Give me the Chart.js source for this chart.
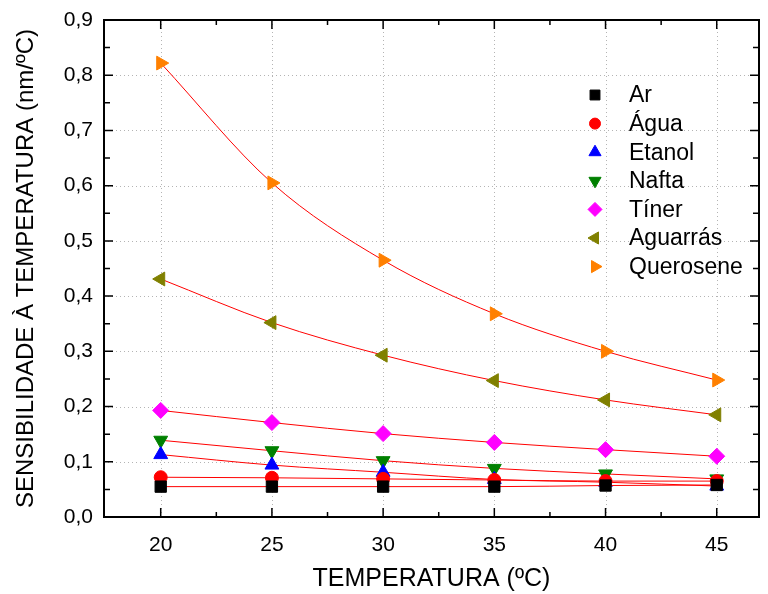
<!DOCTYPE html>
<html>
<head>
<meta charset="utf-8">
<script src="https://cdn.jsdelivr.net/npm/chart.js@4"></script>
<style>
  html, body { margin: 0; padding: 0; background: #fff; }
  #wrap { width: 768px; height: 594px; }
</style>
</head>
<body>
<div id="wrap"><canvas id="myChart" width="768" height="594"></canvas></div>
<script>
// temperatures (ºC)
var temps = [20, 25, 30, 35, 40, 45];

// sensitivity (nm/ºC)
var ar        = [0.055, 0.055, 0.055, 0.055, 0.057, 0.058];
var agua      = [0.072, 0.071, 0.069, 0.067, 0.065, 0.065];
var etanol    = [0.113, 0.094, 0.081, 0.068, 0.063, 0.056];
var nafta     = [0.139, 0.120, 0.102, 0.088, 0.078, 0.069];
var tiner     = [0.193, 0.171, 0.151, 0.135, 0.122, 0.110];
var aguarras  = [0.431, 0.352, 0.293, 0.247, 0.212, 0.185];
var querosene = [0.822, 0.605, 0.465, 0.368, 0.300, 0.248];

var xTicks = [20, 25, 30, 35, 40, 45];
var yTicks = [0, 0.1, 0.2, 0.3, 0.4, 0.5, 0.6, 0.7, 0.8, 0.9];

var FONT = '"Liberation Sans", Arial, sans-serif';

function pts(arr) {
    return temps.map(function (t, i) { return { x: t, y: arr[i] }; });
}

function series(label, arr, color, style, rot, r) {
    return {
        label: label,
        data: pts(arr),
        showLine: true,
        borderColor: 'rgb(255, 0, 0)',
        borderWidth: 1,
        cubicInterpolationMode: 'monotone',
        pointStyle: style,
        rotation: rot,
        pointRadius: r,
        pointHoverRadius: r,
        pointBackgroundColor: color,
        pointBorderColor: color,
        pointBorderWidth: 1
    };
}

// dotted grid under the data
var gridPlugin = {
    id: 'dotgrid',
    beforeDatasetsDraw: function (chart) {
        var ctx = chart.ctx, a = chart.chartArea;
        var xs = chart.scales.x, ys = chart.scales.y;
        ctx.save();
        ctx.strokeStyle = '#b4b4b4';
        ctx.lineWidth = 1;
        ctx.setLineDash([1, 3]);
        ctx.beginPath();
        xTicks.forEach(function (v) {
            var px = Math.round(xs.getPixelForValue(v)) + 0.5;
            ctx.moveTo(px, a.top); ctx.lineTo(px, a.bottom);
        });
        yTicks.forEach(function (v) {
            var py = Math.round(ys.getPixelForValue(v)) + 0.5;
            ctx.moveTo(a.left, py); ctx.lineTo(a.right, py);
        });
        ctx.stroke();
        ctx.restore();
    }
};

// frame, inward ticks and legend inside the plot
var framePlugin = {
    id: 'frame',
    afterDraw: function (chart) {
        var ctx = chart.ctx, a = chart.chartArea;
        var xs = chart.scales.x, ys = chart.scales.y;
        ctx.save();
        ctx.strokeStyle = '#000';
        ctx.lineWidth = 2;
        ctx.strokeRect(a.left, a.top, a.right - a.left, a.bottom - a.top);
        ctx.lineWidth = 1.5;
        ctx.beginPath();
        for (var v = 17.5; v <= 47; v += 2.5) {
            var px = xs.getPixelForValue(v);
            if (px < a.left + 2 || px > a.right - 2) continue;
            var len = (v % 5 === 0) ? 9 : 5;
            ctx.moveTo(px, a.bottom); ctx.lineTo(px, a.bottom - len);
            ctx.moveTo(px, a.top); ctx.lineTo(px, a.top + len);
        }
        for (var k = 1; k < 18; k++) {
            var py = ys.getPixelForValue(k * 0.05);
            var l2 = (k % 2 === 0) ? 9 : 6;
            ctx.moveTo(a.left, py); ctx.lineTo(a.left + l2, py);
            ctx.moveTo(a.right, py); ctx.lineTo(a.right - l2, py);
        }
        ctx.stroke();

        // legend
        var lx = 595, tx = 629, ly = 95, step = 28.6;
        ctx.font = '23px ' + FONT;
        ctx.textBaseline = 'middle';
        ctx.textAlign = 'left';
        chart.data.datasets.forEach(function (ds, i) {
            var y = ly + i * step;
            ctx.fillStyle = ds.pointBackgroundColor;
            ctx.strokeStyle = ds.pointBorderColor;
            ctx.lineWidth = 1;
            Chart.helpers.drawPoint(ctx, {
                pointStyle: ds.pointStyle, rotation: ds.rotation,
                radius: ds.pointStyle === 'circle' ? 5.5 : 7, borderWidth: 1
            }, lx, y);
            ctx.fillStyle = '#000';
            ctx.fillText(ds.label, tx, y + 1);
        });
        ctx.restore();
    }
};

var ctx = document.getElementById('myChart').getContext('2d');
var myChart = new Chart(ctx, {
    type: 'scatter',
    data: {
        datasets: [
            series('Ar', ar, '#000000', 'rect', 0, 8),
            series('Água', agua, '#ff0000', 'circle', 0, 6.5),
            series('Etanol', etanol, '#0000ff', 'triangle', 0, 8),
            series('Nafta', nafta, '#008000', 'triangle', 180, 8),
            series('Tíner', tiner, '#ff00ff', 'rectRot', 0, 8),
            series('Aguarrás', aguarras, '#808000', 'triangle', -90, 8),
            series('Querosene', querosene, '#ff8000', 'triangle', 90, 8)
        ]
    },
    options: {
        responsive: false,
        animation: false,
        layout: { padding: { top: 20, right: 4, left: 0, bottom: 0 } },
        plugins: {
            legend: { display: false },
            tooltip: { enabled: false }
        },
        scales: {
            x: {
                type: 'linear',
                min: 17.45,
                max: 46.9,
                afterBuildTicks: function (s) { s.ticks = xTicks.map(function (v) { return { value: v }; }); },
                afterFit: function (s) { s.height = 77; s.paddingLeft = 0; s.paddingRight = 0; },
                border: { display: false },
                grid: { display: false, drawTicks: false },
                ticks: { color: '#000', font: { family: FONT, size: 21 }, padding: 16, maxRotation: 0 },
                title: {
                    display: true, text: 'TEMPERATURA (ºC)', color: '#000',
                    font: { family: FONT, size: 25 }, padding: { top: 0, bottom: 0 }
                }
            },
            y: {
                min: 0,
                max: 0.9,
                afterBuildTicks: function (s) { s.ticks = yTicks.map(function (v) { return { value: v }; }); },
                afterFit: function (s) { s.width = 104; s.paddingTop = 0; s.paddingBottom = 0; },
                border: { display: false },
                grid: { display: false, drawTicks: false },
                ticks: {
                    color: '#000', font: { family: FONT, size: 21 }, padding: 11,
                    callback: function (v) { return v.toFixed(1).replace('.', ','); }
                },
                title: {
                    display: true, text: 'SENSIBILIDADE À TEMPERATURA (nm/ºC)', color: '#000',
                    font: { family: FONT, size: 24 }, padding: { top: 12, bottom: 0 }
                }
            }
        }
    },
    plugins: [gridPlugin, framePlugin]
});
</script>
</body>
</html>
